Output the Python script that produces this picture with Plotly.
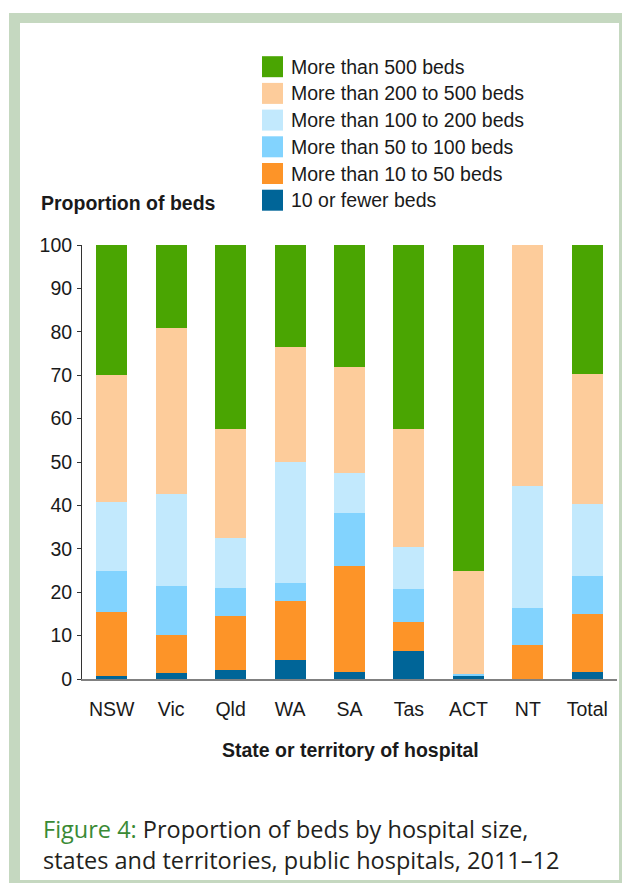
import plotly.graph_objects as go

# category labels along the x axis
states = ["NSW", "Vic", "Qld", "WA", "SA", "Tas", "ACT", "NT", "Total"]

# proportion of beds (%) by hospital size, bottom segment first
beds_10_or_fewer = [0.6, 1.3, 2.0, 4.3, 1.6, 6.4, 0.9, 0.0, 1.6]
beds_10_to_50 = [14.8, 8.9, 12.5, 13.7, 24.5, 6.7, 0.0, 7.8, 13.3]
beds_50_to_100 = [9.4, 11.2, 6.4, 4.1, 12.1, 7.6, 0.2, 8.5, 8.8]
beds_100_to_200 = [16.0, 21.2, 11.6, 27.8, 9.2, 9.7, 0.0, 28.1, 16.6]
beds_200_to_500 = [29.2, 38.3, 25.2, 26.7, 24.5, 27.2, 23.9, 55.6, 30.0]
beds_over_500 = [30.0, 19.1, 42.3, 23.4, 28.1, 42.4, 75.0, 0.0, 29.7]

series_names = [
    "10 or fewer beds",
    "More than 10 to 50 beds",
    "More than 50 to 100 beds",
    "More than 100 to 200 beds",
    "More than 200 to 500 beds",
    "More than 500 beds",
]
series_values = [
    beds_10_or_fewer,
    beds_10_to_50,
    beds_50_to_100,
    beds_100_to_200,
    beds_200_to_500,
    beds_over_500,
]
colors = ["#006598", "#fd9428", "#82d3fe", "#c2e9fd", "#fdcc9b", "#4aa502"]

y_ticks = [0, 10, 20, 30, 40, 50, 60, 70, 80, 90, 100]

# the page body adds an 8px margin, so the figure is 16px smaller than the window
W, H = 614, 875
L, R, T, B = 74, 5, 237, 204
PW, PH = W - L - R, H - T - B
FONT = "Liberation Sans, Arial, sans-serif"
INK = "#1a1a1a"
FRAME = "#c5d8c0"


def px(x):
    return (x - L) / PW


def py(y):
    return (H - B - y) / PH


fig = go.Figure()
for name, vals, col in zip(series_names, series_values, colors):
    fig.add_trace(go.Bar(x=states, y=vals, name=name, marker=dict(color=col, line_width=0)))

shapes = [
    # outer frame and white card
    dict(type="rect", xref="paper", yref="paper", x0=px(1), x1=px(W + 20), y0=py(H + 20), y1=py(5),
         fillcolor=FRAME, line_width=0, layer="below"),
    dict(type="rect", xref="paper", yref="paper", x0=px(12), x1=px(611), y0=py(872), y1=py(15),
         fillcolor="white", line_width=0, layer="below"),
]
annotations = []

# legend drawn by hand, top item = largest hospitals
row_y = 58.7
for name, col in zip(series_names[::-1], colors[::-1]):
    shapes.append(dict(type="rect", xref="paper", yref="paper",
                       x0=px(254), x1=px(275), y0=py(row_y + 10.5), y1=py(row_y - 10.5),
                       fillcolor=col, line_width=0))
    annotations.append(dict(text=name, xref="paper", yref="paper", x=px(281), y=py(row_y),
                            xanchor="left", yanchor="middle", showarrow=False,
                            font=dict(family=FONT, size=19.5, color=INK)))
    row_y += 26.7

annotations += [
    dict(text="<b>Proportion of beds</b>", xref="paper", yref="paper", x=px(31), y=py(195),
         xanchor="left", yanchor="middle", showarrow=False,
         font=dict(family=FONT, size=19.5, color=INK)),
    dict(text="<b>State or territory of hospital</b>", xref="paper", yref="paper",
         x=px(342), y=py(742), xanchor="center", yanchor="middle", showarrow=False,
         font=dict(family=FONT, size=19.5, color=INK)),
    dict(text="<span style='color:#3a8a35'>Figure 4:</span> Proportion of beds by hospital size,"
              "<br>states and territories, public hospitals, 2011\u201312",
         xref="paper", yref="paper", x=px(33), y=py(836), xanchor="left", yanchor="middle",
         align="left", showarrow=False,
         font=dict(family="Open Sans, Noto Sans, sans-serif", size=23.5, color="#231f20")),
]

fig.update_layout(
    width=W,
    height=H,
    margin=dict(l=L, r=R, t=T, b=B, pad=0),
    paper_bgcolor="white",
    plot_bgcolor="rgba(0,0,0,0)",
    barmode="stack",
    bargap=0.48,
    showlegend=False,
    shapes=shapes,
    annotations=annotations,
    font=dict(family=FONT, color=INK),
    xaxis=dict(
        showgrid=False,
        showline=True,
        linecolor="#808080",
        linewidth=1.5,
        ticks="",
        ticklabelstandoff=12,
        tickfont=dict(family=FONT, size=19.5, color=INK),
        fixedrange=True,
    ),
    yaxis=dict(
        range=[0, 100],
        tickvals=y_ticks,
        showgrid=False,
        zeroline=False,
        showline=True,
        linecolor="#333333",
        linewidth=1,
        ticks="outside",
        ticklen=4,
        tickcolor="#333333",
        ticklabelstandoff=1,
        tickfont=dict(family=FONT, size=19.5, color=INK),
        fixedrange=True,
    ),
)

fig.write_html("out.html", config=dict(displayModeBar=False))
